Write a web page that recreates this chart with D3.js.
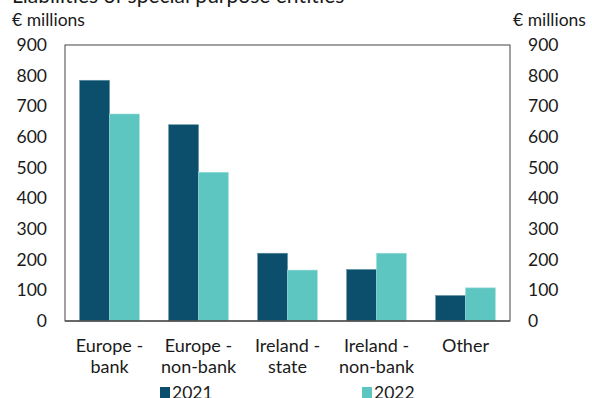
<!DOCTYPE html>
<html><head><meta charset="utf-8">
<script src="https://cdn.jsdelivr.net/npm/d3@7"></script>
<style>body{margin:0;background:#fff}text{font-family:Lato,"Open Sans",sans-serif;fill:#1a1a1a}</style>
</head><body><svg id="c" width="592" height="398"></svg>
<script>
const categories = [["Europe -","bank"],["Europe -","non-bank"],["Ireland -","state"],["Ireland -","non-bank"],["Other"]];
const series = ["2021","2022"];
const values2021 = [785, 640, 221, 168, 83];
const values2022 = [675, 485, 166, 221, 108];
const yTicks = [0,100,200,300,400,500,600,700,800,900];
const colors = ["#0b4f6c","#5ec6c1"];

const svg = d3.select("#c");
const L = 65, R = 510, T = 45, B = 321;
const x = d3.scaleBand().domain(d3.range(categories.length)).range([L, R]).paddingInner(0.33).paddingOuter(0.165);
const xs = d3.scaleBand().domain(series).range([0, x.bandwidth()]);
const y = d3.scaleLinear().domain([0, 900]).range([B, T]);
const fs = 17.5;

svg.append("text").attr("x", 12).attr("y", 3).attr("font-size", 21).text("Liabilities of special purpose entities");
svg.append("text").attr("x", 12).attr("y", 26).attr("font-size", fs).text("€ millions");
svg.append("text").attr("x", 513).attr("y", 26).attr("font-size", fs).text("€ millions");

const data = [values2021, values2022];
series.forEach((s, si) => {
  svg.append("g").selectAll("rect").data(data[si]).join("rect")
    .attr("x", (d, i) => x(i) + xs(s))
    .attr("width", xs.bandwidth())
    .attr("y", d => y(d))
    .attr("height", d => B - y(d))
    .attr("fill", colors[si])
    .attr("stroke", si === 0 ? "#5d8ea3" : "#9adcd8").attr("stroke-width", 0.6);
});

svg.append("rect").attr("x", L).attr("y", T).attr("width", R - L).attr("height", B - T)
  .attr("fill", "none").attr("stroke", "#444").attr("stroke-width", 1);
svg.append("line").attr("x1", L).attr("x2", R).attr("y1", B).attr("y2", B).attr("stroke", "#555").attr("stroke-width", 1.5);

const yl = d3.axisLeft(y).tickValues(yTicks).tickSize(0).tickPadding(18);
const gl = svg.append("g").attr("transform", `translate(${L},0)`).call(yl);
gl.select(".domain").remove();
gl.selectAll("text").attr("font-size", fs).attr("fill", "#1a1a1a").style("font-family", "Lato");
const yr = d3.axisRight(y).tickValues(yTicks).tickSize(0).tickPadding(18);
const gr = svg.append("g").attr("transform", `translate(${R},0)`).call(yr);
gr.select(".domain").remove();
gr.selectAll("text").attr("font-size", fs).attr("fill", "#1a1a1a").style("font-family", "Lato");

const xl = svg.append("g");
categories.forEach((lines, i) => {
  const t = xl.append("text").attr("text-anchor", "middle").attr("font-size", 18)
    .attr("x", x(i) + x.bandwidth() / 2).attr("y", 352);
  lines.forEach((ln, j) => t.append("tspan").attr("x", x(i) + x.bandwidth() / 2).attr("dy", j === 0 ? 0 : 21).text(ln));
});

const legX = [160, 362];
series.forEach((s, si) => {
  svg.append("rect").attr("x", legX[si]).attr("y", 387).attr("width", 10).attr("height", 11).attr("fill", colors[si]);
  svg.append("text").attr("x", legX[si] + 12).attr("y", 399).attr("font-size", fs).text(s);
});
</script></body></html>
